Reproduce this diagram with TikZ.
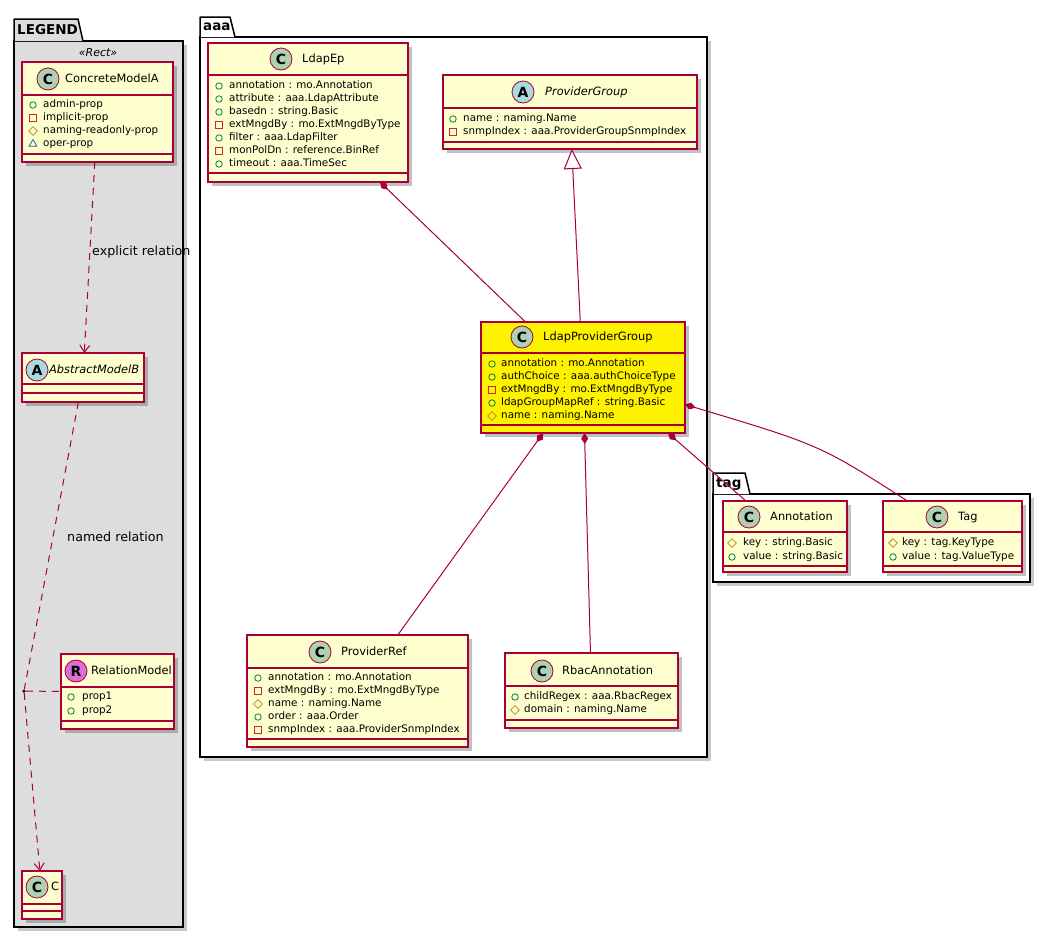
\documentclass[tikz,border=0pt]{standalone}
\usepackage{fontspec}
\setmainfont{DejaVu Sans}
\usetikzlibrary{arrows.meta,shapes.geometric,shadows}

\definecolor{umlred}{HTML}{A80036}
\definecolor{umlfill}{HTML}{FEFECE}
\definecolor{cgreen}{HTML}{ADD1B2}
\definecolor{ablue}{HTML}{A9DCDF}
\definecolor{rpink}{HTML}{DA70D6}
\definecolor{legendgray}{HTML}{DDDDDD}
\definecolor{pubgreen}{HTML}{038048}
\definecolor{privred}{HTML}{C82930}
\definecolor{namgold}{HTML}{B38D22}
\definecolor{oprblue}{HTML}{1963A0}

\tikzset{
  cls/.style={draw=umlred, fill=umlfill, line width=1.2pt, outer sep=0pt, inner sep=0pt, anchor=north west,
    drop shadow={shadow xshift=4pt, shadow yshift=-4pt, opacity=.35, fill=black!70}},
  pkg/.style={draw=black, line width=1.5pt, outer sep=0pt, inner sep=0pt, anchor=north west,
    drop shadow={shadow xshift=4pt, shadow yshift=-4pt, opacity=.3, fill=black!70}},
  pkgtab/.style={draw=black, line width=1.5pt, line join=round},
  pkgname/.style={anchor=west, inner sep=0pt, font=\fontsize{13.5}{15}\bfseries},
  sepline/.style={draw=umlred, line width=1.2pt},
  badge/.style={circle, draw=umlred, line width=.8pt, minimum size=22pt, inner sep=0pt, font=\fontsize{14}{14}\bfseries},
  cname/.style={anchor=west, inner sep=0pt, font=\fontsize{11.4}{13}\selectfont, text height=8.5pt, text depth=2.5pt},
  aname/.style={cname, font=\fontsize{11.4}{13}\itshape},
  attr/.style={anchor=west, inner sep=0pt, font=\fontsize{10.35}{12}\selectfont, text height=7.8pt, text depth=2.4pt},
  pub/.style={circle, draw=pubgreen, line width=.8pt, minimum size=6.5pt, inner sep=0pt},
  priv/.style={rectangle, draw=privred, line width=.8pt, minimum size=6.5pt, inner sep=0pt},
  nam/.style={diamond, draw=namgold, line width=.8pt, minimum size=9pt, inner sep=0pt},
  opr/.style={regular polygon, regular polygon sides=3, draw=oprblue, line width=.8pt, minimum size=9pt, inner sep=0pt},
  lbl/.style={anchor=west, inner sep=0pt, font=\fontsize{12.7}{14}\selectfont},
  dep/.style={draw=umlred, line width=1pt, dash pattern=on 7pt off 6pt, -{Straight Barb[length=7pt,width=10pt]}},
  lnk/.style={draw=umlred, line width=1pt, dash pattern=on 7pt off 6pt},
  comp/.style={draw=umlred, line width=1pt, {Diamond[length=11pt,width=7pt]}-},
  gen/.style={draw=umlred, line width=1pt, -{Triangle[open,length=20pt,width=18pt,fill=white]}}
}

\begin{document}
\begin{tikzpicture}[x=1pt,y=-1pt]
  \useasboundingbox[fill=white] (0,0) rectangle (1050,938);

  % packages
  \node[pkg, fill=legendgray, minimum width=169pt, minimum height=886pt] (legend) at (14,41) {};
  \filldraw[pkgtab, fill=legendgray] (14,41) -- (14,19) -- (78,19) -- (83,41);
  \node[pkgname] (legendn) at (17,30) {LEGEND};
  \node[font=\fontsize{11}{13}\itshape] (rectst) at (98,53) {«Rect»};

  \node[pkg, fill=white, minimum width=507pt, minimum height=720pt] (aaa) at (200,37) {};
  \filldraw[pkgtab, fill=white] (200,37) -- (200,17) -- (230,17) -- (235,37);
  \node[pkgname] (aaan) at (203,27) {aaa};

  \node[pkg, fill=white, minimum width=317pt, minimum height=88pt] (tag) at (713,494) {};
  \filldraw[pkgtab, fill=white] (713,494) -- (713,473) -- (745,473) -- (750,494);
  \node[pkgname] (tagn) at (716,484) {tag};

  % legend classes
  \node[cls, minimum width=151pt, minimum height=100pt] (concA) at (22,62) {};
  \draw[sepline] (22,95) -- (173,95) (22,154) -- (173,154);
  \node[badge, fill=cgreen] (concAc) at (48,79) {C};
  \node[cname] (concAn) at (65,79) {ConcreteModelA};
  \foreach \k/\txt [count=\i] in {pub/admin-prop, priv/implicit-prop, nam/naming-readonly-prop, opr/oper-prop}
    {\node[\k] (concAi\i) at (33,92+13*\i) {}; \node[attr] (concAt\i) at (43,92+13*\i) {\txt};}

  \node[cls, minimum width=122pt, minimum height=49pt] (absB) at (22,353) {};
  \draw[sepline] (22,384) -- (144,384) (22,393) -- (144,393);
  \node[badge, fill=ablue] (absBc) at (37,370) {A};
  \node[aname] (absBn) at (49,370) {AbstractModelB};

  \node[cls, minimum width=113pt, minimum height=75pt] (relM) at (61,654) {};
  \draw[sepline] (61,687) -- (174,687) (61,721) -- (174,721);
  \node[badge, fill=rpink] (relMc) at (76,671) {R};
  \node[cname] (relMn) at (91,671) {RelationModel};
  \foreach \txt [count=\i] in {prop1, prop2}
    {\node[pub] (relMi\i) at (71,683+14*\i) {}; \node[attr] (relMt\i) at (82,683+14*\i) {\txt};}

  \node[cls, minimum width=40pt, minimum height=48pt] (cC) at (22,871) {};
  \draw[sepline] (22,904) -- (62,904) (22,911) -- (62,911);
  \node[badge, fill=cgreen] (cCc) at (37,887) {C};
  \node[cname] (cCn) at (51,887) {C};

  \node[inner sep=0pt, circle, fill=black, minimum size=3.5pt] (relpt) at (24,691) {};

  % aaa classes
  \node[cls, minimum width=200pt, minimum height=139pt] (ldapep) at (208,43) {};
  \draw[sepline] (208,75) -- (408,75) (208,173) -- (408,173);
  \node[badge, fill=cgreen] (ldapepc) at (281,59) {C};
  \node[cname] (ldapepn) at (302,59) {LdapEp};
  \foreach \k/\txt [count=\i] in {pub/{annotation : mo.Annotation}, pub/{attribute : aaa.LdapAttribute},
      pub/{basedn : string.Basic}, priv/{extMngdBy : mo.ExtMngdByType}, pub/{filter : aaa.LdapFilter},
      priv/{monPolDn : reference.BinRef}, pub/{timeout : aaa.TimeSec}}
    {\node[\k] (ldapepi\i) at (219,73+13*\i) {}; \node[attr] (ldapept\i) at (229,73+13*\i) {\txt};}

  \node[cls, minimum width=254pt, minimum height=74pt] (pgrp) at (443,75) {};
  \draw[sepline] (443,108) -- (697,108) (443,142) -- (697,142);
  \node[badge, fill=ablue] (pgrpc) at (523,92) {A};
  \node[aname] (pgrpn) at (545,92) {ProviderGroup};
  \foreach \k/\txt [count=\i] in {pub/{name : naming.Name}, priv/{snmpIndex : aaa.ProviderGroupSnmpIndex}}
    {\node[\k] (pgrpi\i) at (453,106+13*\i) {}; \node[attr] (pgrpt\i) at (463,106+13*\i) {\txt};}

  \node[cls, fill=yellow, minimum width=204pt, minimum height=111pt] (lpg) at (481,322) {};
  \draw[sepline] (481,353) -- (685,353) (481,425) -- (685,425);
  \node[badge, fill=cgreen] (lpgc) at (522,337) {C};
  \node[cname] (lpgn) at (543,337) {LdapProviderGroup};
  \foreach \k/\txt [count=\i] in {pub/{annotation : mo.Annotation}, pub/{authChoice : aaa.authChoiceType},
      priv/{extMngdBy : mo.ExtMngdByType}, pub/{ldapGroupMapRef : string.Basic}, nam/{name : naming.Name}}
    {\node[\k] (lpgi\i) at (492,351+13*\i) {}; \node[attr] (lpgt\i) at (501,351+13*\i) {\txt};}

  \node[cls, minimum width=221pt, minimum height=112pt] (pref) at (247,635) {};
  \draw[sepline] (247,668) -- (468,668) (247,739) -- (468,739);
  \node[badge, fill=cgreen] (prefc) at (320,652) {C};
  \node[cname] (prefn) at (341,652) {ProviderRef};
  \foreach \k/\txt [count=\i] in {pub/{annotation : mo.Annotation}, priv/{extMngdBy : mo.ExtMngdByType},
      nam/{name : naming.Name}, pub/{order : aaa.Order}, priv/{snmpIndex : aaa.ProviderSnmpIndex}}
    {\node[\k] (prefi\i) at (258,665+13*\i) {}; \node[attr] (preft\i) at (268,665+13*\i) {\txt};}

  \node[cls, minimum width=173pt, minimum height=75pt] (rbac) at (505,653) {};
  \draw[sepline] (505,686) -- (678,686) (505,720) -- (678,720);
  \node[badge, fill=cgreen] (rbacc) at (542,671) {C};
  \node[cname] (rbacn) at (562,671) {RbacAnnotation};
  \foreach \k/\txt [count=\i] in {pub/{childRegex : aaa.RbacRegex}, nam/{domain : naming.Name}}
    {\node[\k] (rbaci\i) at (515,684+13*\i) {}; \node[attr] (rbact\i) at (524,684+13*\i) {\txt};}

  % tag classes
  \node[cls, minimum width=124pt, minimum height=71pt] (annot) at (723,501) {};
  \draw[sepline] (723,532) -- (847,532) (723,566) -- (847,566);
  \node[badge, fill=cgreen] (annotc) at (749,517) {C};
  \node[cname] (annotn) at (770,517) {Annotation};
  \foreach \k/\txt [count=\i] in {nam/{key : string.Basic}, pub/{value : string.Basic}}
    {\node[\k] (annoti\i) at (732,529+14*\i) {}; \node[attr] (annott\i) at (743,529+14*\i) {\txt};}

  \node[cls, minimum width=139pt, minimum height=71pt] (tagc) at (883,501) {};
  \draw[sepline] (883,532) -- (1022,532) (883,566) -- (1022,566);
  \node[badge, fill=cgreen] (tagcc) at (937,517) {C};
  \node[cname] (tagcn) at (958,517) {Tag};
  \foreach \k/\txt [count=\i] in {nam/{key : tag.KeyType}, pub/{value : tag.ValueType}}
    {\node[\k] (tagci\i) at (893,529+14*\i) {}; \node[attr] (tagct\i) at (902,529+14*\i) {\txt};}

  % legend relations
  \draw[dep] (concA) -- (absB);
  \node[lbl] (explbl) at (92,252) {explicit relation};
  \draw[lnk] (absB) -- (relpt);
  \draw[dep] (relpt) -- (cC);
  \draw[lnk] (relpt) -- (relM.west);
  \node[lbl] (namlbl) at (67,537) {named relation};

  % aaa relations
  \draw[comp] (ldapep) -- (lpg);
  \draw[gen] (lpg) -- (pgrp);
  \draw[comp] (lpg) -- (pref);
  \draw[comp] (lpg) -- (rbac);
  \draw[comp] ([xshift=-17pt]lpg.south east) -- ([xshift=-39pt]annot.north);
  \draw[comp] ([yshift=-27pt]lpg.east) .. controls (820,445) .. ([xshift=-45pt]tagc.north);

\end{tikzpicture}
\end{document}
